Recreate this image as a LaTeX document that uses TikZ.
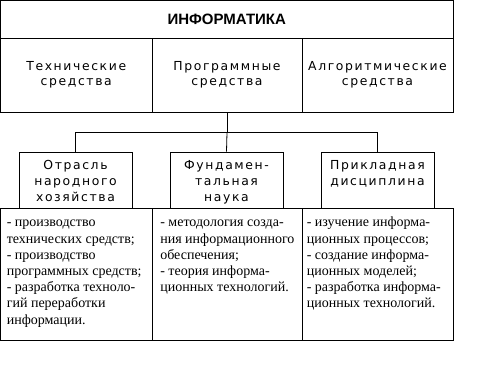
\documentclass[tikz,border=0pt]{standalone}
\usepackage{fontspec}
\setmainfont{Liberation Serif}
\setsansfont{Liberation Sans}
\newfontfamily\labelfont{DejaVu Sans}[LetterSpace=13]
\usepackage{tikz}
\usetikzlibrary{positioning}

\newcommand{\toprow}[1]{\rule{0pt}{#1}}

\begin{document}
\begin{tikzpicture}[
  x=1pt, y=-1pt,
  every node/.style={inner sep=0pt},
  cell/.style={draw, line width=0.8pt, align=center},
  head/.style={font=\labelfont\fontsize{12.4}{15.5}\selectfont, align=center},
  sub/.style={font=\labelfont\fontsize{12.4}{16}\selectfont, align=center},
  list/.style={font=\rmfamily\fontsize{14}{16.2}\selectfont, align=left},
  link/.style={line width=0.8pt},
]
\useasboundingbox (0,0) rectangle (496,378);

%% title row
\node[cell, minimum width=452.5pt, minimum height=37.5pt,
      font=\sffamily\bfseries\fontsize{15}{18}\selectfont] (title) at (226.75,19.25)
  {ИНФОРМАТИКА};

%% means row
\node[cell, head, minimum width=151.5pt, minimum height=74pt] (tech) at (76.25,75)
  {Технические\\средства};
\node[cell, head, minimum width=150pt, minimum height=74pt] (prog) at (227,75)
  {Программные\\средства};
\node[cell, head, minimum width=151pt, minimum height=74pt] (algo) at (377.5,75)
  {Алгоритмические\\средства};

%% three aspects
\node[cell, minimum width=113pt, minimum height=56pt] (branch) at (75.5,180) {};
\node[cell, minimum width=113pt, minimum height=56pt] (science) at (226.5,180) {};
\node[cell, minimum width=113pt, minimum height=56pt] (applied) at (377.5,180) {};
\node[sub, below=7pt of branch.north] (branchtxt) {\toprow{11pt}Отрасль\\народного\\хозяйства};
\node[sub, below=7pt of science.north] (sciencetxt) {\toprow{11pt}Фундамен-\\тальная\\наука};
\node[sub, below=7pt of applied.north] (appliedtxt) {\toprow{11pt}Прикладная\\дисциплина};

%% description row
\node[cell, minimum width=151.5pt, minimum height=132pt] (low1) at (76.25,274) {};
\node[cell, minimum width=150pt, minimum height=132pt] (low2) at (227,274) {};
\node[cell, minimum width=151pt, minimum height=132pt] (low3) at (377.5,274) {};
\node[list, below right=7pt and 6.5pt of low1.north west] (low1txt)
  {\toprow{12pt}- производство\\технических средств;\\- производство\\программных средств;\\
   - разработка техноло-\\гий переработки\\информации.};
\node[list, below right=7pt and 8.5pt of low2.north west] (low2txt)
  {\toprow{12pt}- методология созда-\\ния информационного\\обеспечения;\\- теория информа-\\ционных технологий.};
\node[list, below right=7pt and 5pt of low3.north west] (low3txt)
  {\toprow{12pt}- изучение информа-\\ционных процессов;\\- создание информа-\\ционных моделей;\\
   - разработка информа-\\ционных технологий.};

%% tree
\draw[link] (prog.south) -- ++(0,20) coordinate (fork);
\draw[link] (branch.north) |- (fork) -| (applied.north);
\draw[link] (fork) -- (science.north);

\end{tikzpicture}
\end{document}
